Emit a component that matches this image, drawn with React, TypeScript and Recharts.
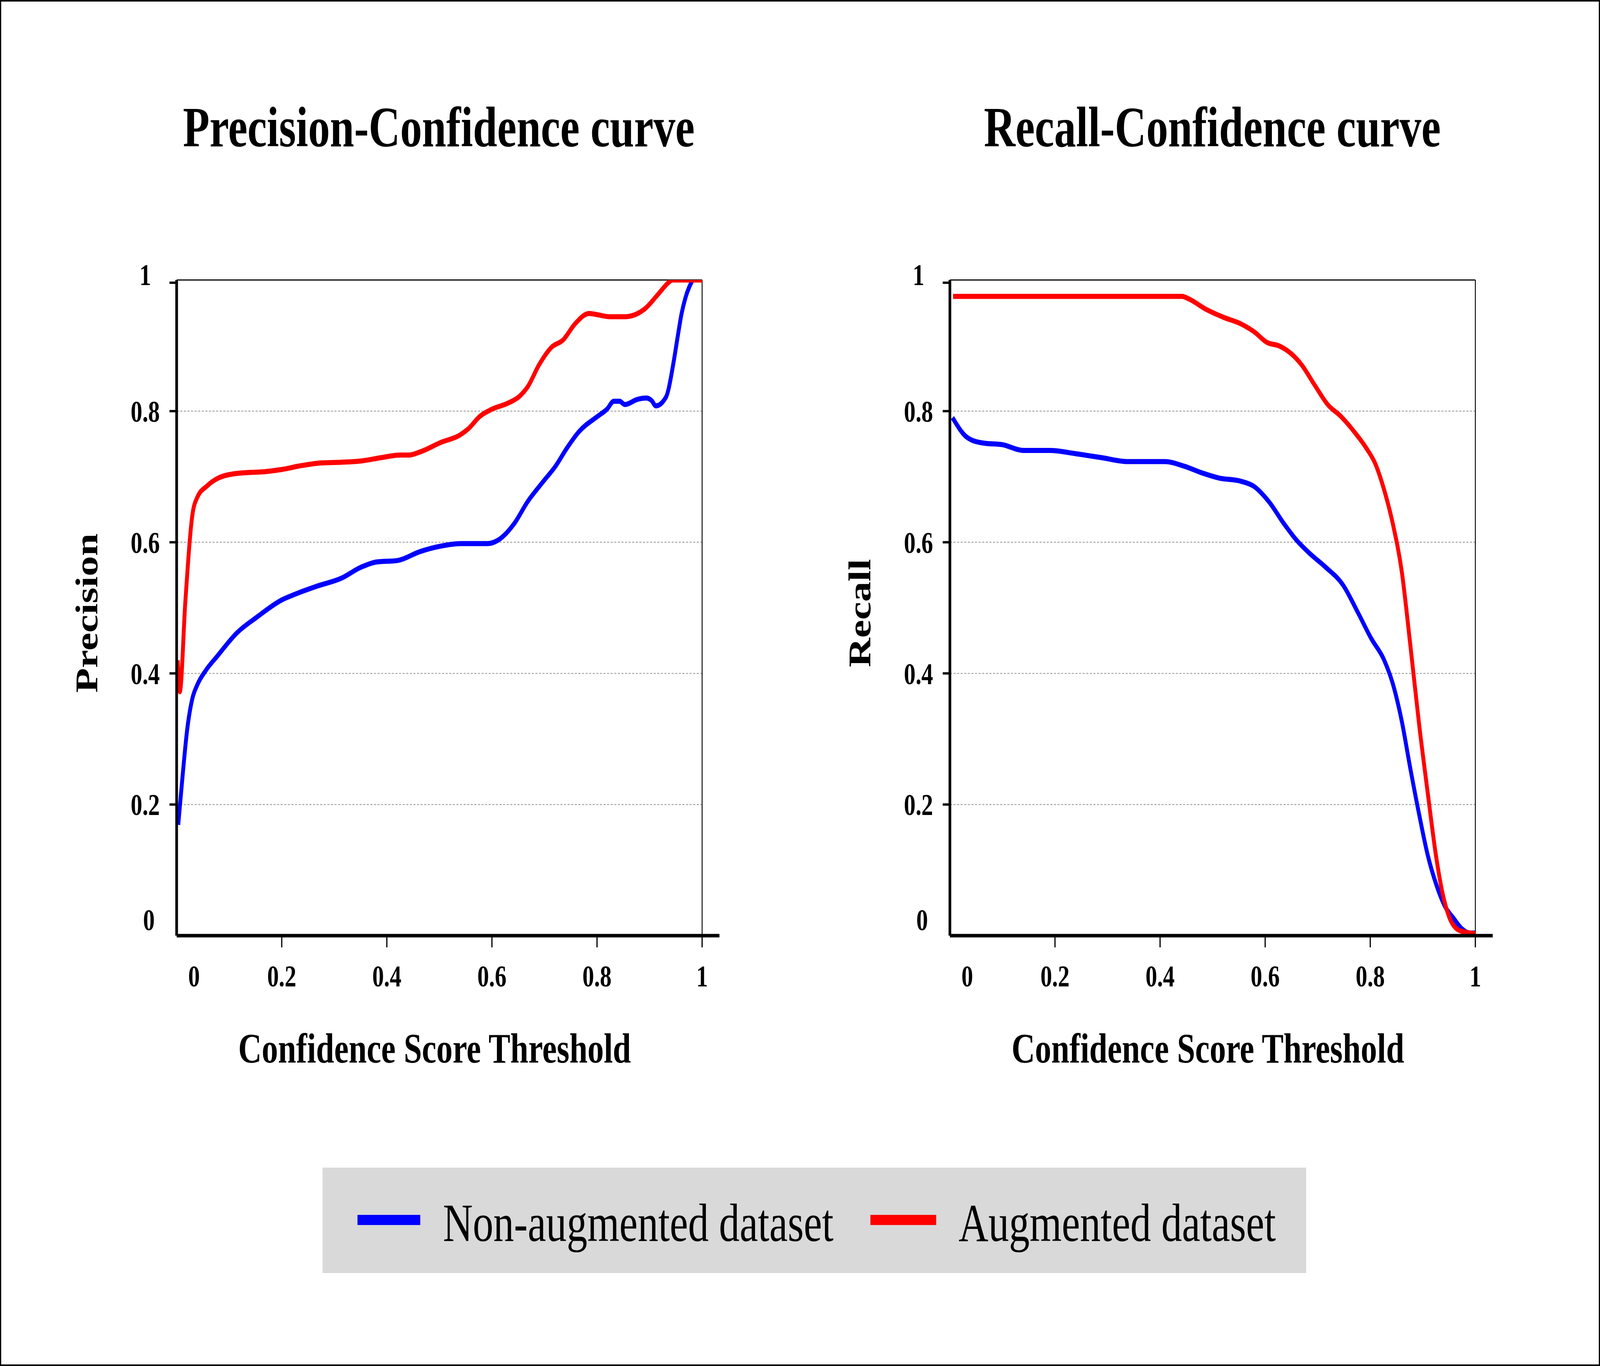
import React from 'react';
import { LineChart, Line, XAxis, YAxis, ReferenceLine } from 'recharts';

// ---------- Data ----------
const precisionNonAugX = [0.003, 0.011, 0.02, 0.03, 0.039, 0.055, 0.077, 0.115, 0.153, 0.2, 0.223, 0.267, 0.313, 0.351, 0.381, 0.419, 0.464, 0.502, 0.54, 0.592, 0.615, 0.642, 0.668, 0.698, 0.721, 0.743, 0.766, 0.801, 0.819, 0.832, 0.843, 0.853, 0.877, 0.894, 0.904, 0.912, 0.931, 0.946, 0.953, 0.961, 0.968, 0.982];
const precisionNonAugY = [0.169, 0.241, 0.314, 0.362, 0.382, 0.404, 0.426, 0.462, 0.486, 0.512, 0.52, 0.533, 0.545, 0.562, 0.57, 0.572, 0.586, 0.594, 0.598, 0.598, 0.605, 0.628, 0.662, 0.693, 0.716, 0.744, 0.769, 0.792, 0.803, 0.815, 0.815, 0.81, 0.818, 0.82, 0.816, 0.808, 0.821, 0.876, 0.911, 0.949, 0.972, 1.0];

const precisionAugX = [0.002, 0.006, 0.0165, 0.03, 0.039, 0.058, 0.077, 0.115, 0.172, 0.2, 0.238, 0.275, 0.313, 0.351, 0.389, 0.426, 0.442, 0.464, 0.502, 0.54, 0.555, 0.577, 0.6, 0.63, 0.653, 0.668, 0.69, 0.713, 0.736, 0.758, 0.785, 0.801, 0.824, 0.853, 0.891, 0.915, 0.936, 0.943, 1.0];
const precisionAugY = [0.42, 0.372, 0.509, 0.642, 0.668, 0.686, 0.697, 0.705, 0.708, 0.711, 0.717, 0.721, 0.722, 0.724, 0.729, 0.733, 0.733, 0.738, 0.752, 0.764, 0.773, 0.792, 0.803, 0.812, 0.823, 0.837, 0.871, 0.897, 0.909, 0.933, 0.949, 0.947, 0.944, 0.944, 0.956, 0.977, 0.996, 1.0, 1.0];

const recallNonAugX = [0.005, 0.031, 0.041, 0.066, 0.099, 0.14, 0.19, 0.24, 0.289, 0.339, 0.409, 0.446, 0.479, 0.512, 0.554, 0.579, 0.607, 0.636, 0.661, 0.686, 0.715, 0.748, 0.777, 0.802, 0.826, 0.843, 0.86, 0.876, 0.893, 0.909, 0.926, 0.942, 0.959, 0.975, 0.99, 1.0];
const recallNonAugY = [0.79, 0.761, 0.756, 0.751, 0.749, 0.74, 0.74, 0.735, 0.729, 0.723, 0.723, 0.716, 0.706, 0.698, 0.693, 0.685, 0.662, 0.628, 0.602, 0.582, 0.562, 0.535, 0.492, 0.453, 0.421, 0.384, 0.327, 0.256, 0.185, 0.124, 0.077, 0.045, 0.026, 0.01, 0.004, 0.004];

const recallAugX = [0.006, 0.2, 0.442, 0.455, 0.488, 0.521, 0.554, 0.579, 0.603, 0.628, 0.649, 0.669, 0.694, 0.719, 0.744, 0.769, 0.793, 0.81, 0.826, 0.843, 0.86, 0.876, 0.893, 0.909, 0.926, 0.938, 0.95, 0.967, 0.983, 1.0];
const recallAugY = [0.975, 0.975, 0.975, 0.971, 0.955, 0.943, 0.933, 0.921, 0.905, 0.899, 0.888, 0.871, 0.84, 0.81, 0.792, 0.769, 0.743, 0.719, 0.681, 0.628, 0.555, 0.445, 0.322, 0.22, 0.117, 0.063, 0.029, 0.009, 0.005, 0.003];

const tickValues = [0, 0.2, 0.4, 0.6, 0.8, 1];
const tickLabels = ['0', '0.2', '0.4', '0.6', '0.8', '1'];
const gridValues = [0.2, 0.4, 0.6, 0.8];

const panelTitles = ['Precision-Confidence curve', 'Recall-Confidence curve'];
const yAxisTitles = ['Precision', 'Recall'];
const xAxisTitle = 'Confidence Score Threshold';
const seriesNames = ['Non-augmented dataset', 'Augmented dataset'];
const seriesColors = ['#0000ff', '#ff0000'];

const zip = (xs: number[], ys: number[]) => xs.map((x, i) => ({ x, y: ys[i] }));

const FONT = "'Liberation Serif', 'Times New Roman', Times, serif";
const DESIGN_W = 5353;
const DESIGN_H = 3498;

const labelOf = (v: number) => {
  const i = tickValues.findIndex((t) => Math.abs(t - v) < 1e-9);
  return i >= 0 ? tickLabels[i] : String(v);
};

const YTick = (props: any) => {
  const { x, y, payload } = props;
  const v = payload.value;
  const dy = v === 0 ? -41 : v === 1 ? -14 : 0;
  const dx = v === 0 ? 12 : 0;
  const ly = v === 1 ? y + 7 : y;
  return (
    <g>
      {v !== 0 && <line x1={x - 24} x2={x} y1={ly} y2={ly} stroke="#000" strokeWidth={6} />}
      <text x={x - 105 + dx} y={y + dy} dy="0.35em" textAnchor="middle" fontFamily={FONT} fontWeight="bold" fontSize={78} fill="#000">
        {labelOf(v)}
      </text>
    </g>
  );
};

const XTick = (props: any) => {
  const { x, y, payload } = props;
  const v = payload.value;
  return (
    <g>
      {v !== 0 && <line x1={x} x2={x} y1={y} y2={y + 30} stroke="#000" strokeWidth={4} />}
      <text x={x + (v === 0 ? 58 : 0)} y={y + 130} textAnchor="middle" fontFamily={FONT} fontWeight="bold" fontSize={78} fill="#000">
        {labelOf(v)}
      </text>
    </g>
  );
};

const XLabel = (text: string) => (props: any) => {
  const vb = props.viewBox;
  return (
    <text x={vb.x + 863} y={vb.y + 325} textAnchor="middle" fontFamily={FONT} fontWeight="bold" fontSize={109} fill="#000">
      {text}
    </text>
  );
};

const YLabel = (text: string) => (props: any) => {
  const vb = props.viewBox;
  const cx = vb.x + 99;
  const cy = vb.y + 853;
  return (
    <text x={cx} y={cy} transform={`rotate(-90 ${cx} ${cy})`} textAnchor="middle" dominantBaseline="central" fontFamily={FONT} fontWeight="bold" fontSize={104} fill="#000">
      {text}
    </text>
  );
};

const CHART_W = 2700;
const CHART_H = 2900;
const MARGIN = { top: 717, left: 191, right: 293, bottom: 204 };

function Panel(props: { yLabel: string; nonAug: { x: number; y: number }[]; aug: { x: number; y: number }[] }) {
  return (
    <LineChart width={CHART_W} height={CHART_H} margin={MARGIN}>
      <XAxis
        dataKey="x"
        type="number"
        domain={[0, 1.033]}
        ticks={tickValues}
        tickSize={0}
        tickMargin={0}
        tickLine={false}
        tick={<XTick />}
        height={300}
        axisLine={{ stroke: '#000', strokeWidth: 9 }}
        label={{ content: XLabel(xAxisTitle) }}
        allowDataOverflow
      />
      <YAxis
        type="number"
        domain={[0, 1]}
        ticks={tickValues}
        tickSize={0}
        tickMargin={0}
        tickLine={false}
        tick={<YTick />}
        width={400}
        axisLine={{ stroke: '#000', strokeWidth: 9 }}
        label={{ content: YLabel(props.yLabel) }}
        allowDataOverflow
      />
      {gridValues.map((g) => (
        <ReferenceLine key={g} segment={[{ x: 0, y: g }, { x: 1, y: g }]} stroke="#8f8f8f" strokeWidth={2} strokeDasharray="7 5" />
      ))}
      <ReferenceLine segment={[{ x: 0, y: 1 }, { x: 1, y: 1 }]} stroke="#000" strokeWidth={3} />
      <ReferenceLine segment={[{ x: 1, y: 0 }, { x: 1, y: 1 }]} stroke="#000" strokeWidth={3} />
      <Line data={props.nonAug} dataKey="y" type="monotone" stroke={seriesColors[0]} strokeWidth={13} dot={false} isAnimationActive={false} />
      <Line data={props.aug} dataKey="y" type="monotone" stroke={seriesColors[1]} strokeWidth={13} dot={false} isAnimationActive={false} />
    </LineChart>
  );
}

export default function App() {
  // The browser viewport may be narrower than the design; stretch the whole figure to fill it.
  const vw = typeof window !== 'undefined' ? window.innerWidth || DESIGN_W : DESIGN_W;
  const vh = typeof window !== 'undefined' ? window.innerHeight || DESIGN_H : DESIGN_H;
  const sx = Math.min(1, vw / DESIGN_W);
  const sy = Math.min(1, vh / DESIGN_H);
  return (
    <div style={{ position: 'absolute', left: 0, top: 0, width: DESIGN_W * sx, height: DESIGN_H * sy, overflow: 'hidden', background: '#fff' }}>
      <div
        style={{
          position: 'absolute',
          left: 0,
          top: 0,
          width: DESIGN_W,
          height: DESIGN_H,
          background: '#fff',
          boxShadow: 'inset 0 0 0 4px #000',
          fontFamily: FONT,
          transform: `scale(${sx}, ${sy})`,
          transformOrigin: '0 0',
        }}
      >
        <svg width={DESIGN_W} height={DESIGN_H} style={{ position: 'absolute', left: 0, top: 0 }}>
          <text x={1468} y={375} textAnchor="middle" fontFamily={FONT} fontWeight="bold" fontSize={146} fill="#000">
            {panelTitles[0]}
          </text>
          <text x={4056} y={375} textAnchor="middle" fontFamily={FONT} fontWeight="bold" fontSize={146} fill="#000">
            {panelTitles[1]}
          </text>
          <rect x={1079} y={2990} width={3291} height={270} fill="#d9d9d9" />
          <rect x={1196} y={3111} width={210} height={26} fill={seriesColors[0]} />
          <text x={1482} y={3178} fontFamily={FONT} fontSize={138} fill="#000">
            {seriesNames[0]}
          </text>
          <rect x={2912} y={3111} width={220} height={26} fill={seriesColors[1]} />
          <text x={3207} y={3178} fontFamily={FONT} fontSize={138} fill="#000">
            {seriesNames[1]}
          </text>
        </svg>
        <div style={{ position: 'absolute', left: 0, top: 0 }}>
          <Panel yLabel={yAxisTitles[0]} nonAug={zip(precisionNonAugX, precisionNonAugY)} aug={zip(precisionAugX, precisionAugY)} />
        </div>
        <div style={{ position: 'absolute', left: 2587, top: 0 }}>
          <Panel yLabel={yAxisTitles[1]} nonAug={zip(recallNonAugX, recallNonAugY)} aug={zip(recallAugX, recallAugY)} />
        </div>
      </div>
    </div>
  );
}
